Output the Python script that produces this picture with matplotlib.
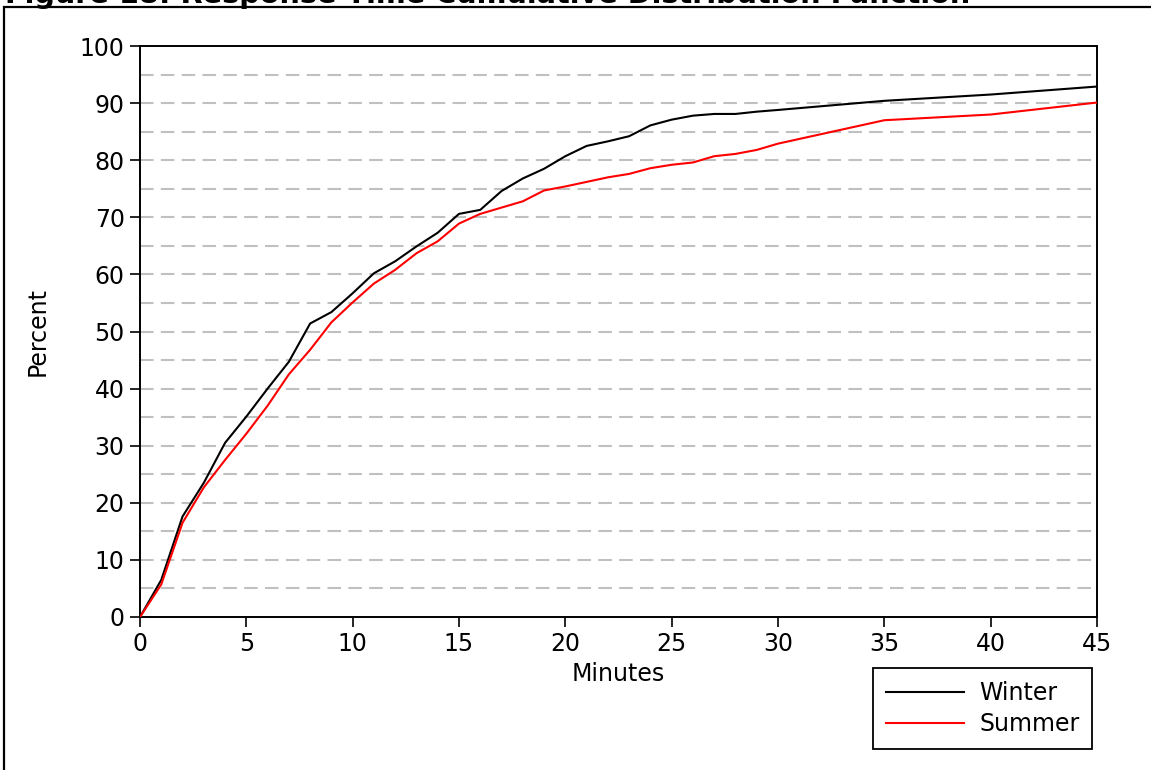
import matplotlib.pyplot as plt
from matplotlib.patches import Rectangle

# response time CDF, percent of calls answered within N minutes
minutes = list(range(0, 31)) + [35, 40, 45]
winter = [0, 6.5, 17.6, 23.5, 30.5, 35.1, 40.0, 44.7, 51.4, 53.4,
          56.7, 60.2, 62.3, 64.9, 67.3, 70.6, 71.3, 74.6, 76.8, 78.5,
          80.7, 82.5, 83.3, 84.2, 86.1, 87.1, 87.8, 88.1, 88.1, 88.5,
          88.8, 90.4, 91.5, 92.9]
summer = [0, 5.7, 16.5, 22.7, 27.5, 32.1, 37.0, 42.5, 46.8, 51.6,
          55.1, 58.4, 60.8, 63.7, 65.8, 68.9, 70.6, 71.7, 72.8, 74.7,
          75.4, 76.2, 77.0, 77.6, 78.6, 79.2, 79.6, 80.7, 81.1, 81.8,
          82.9, 87.0, 88.0, 90.1]

x_ticks = list(range(0, 46, 5))
y_ticks = list(range(0, 101, 10))
grid_levels = list(range(5, 100, 5))

title = 'Figure 18: Response Time Cumulative Distribution Function'

W, H = 1151, 770
plt.rcParams['font.family'] = ['DejaVu Sans']
fs = 17

fig = plt.figure(figsize=(W / 100, H / 100), dpi=100)
ax = fig.add_axes([140 / W, 1 - 617 / H, (1097 - 140) / W, (617 - 46) / H])

# dashed grey reference lines every 5 percent
for lev in grid_levels:
    ax.axhline(lev, color='#c0c0c0', lw=1.5, linestyle=(0, (6.5, 3.5)), zorder=1)

ax.plot(minutes, winter, color='black', lw=1.5, label='Winter', zorder=3)
ax.plot(minutes, summer, color='#ff0000', lw=1.5, label='Summer', zorder=3)

ax.set_xlim(0, 45)
ax.set_ylim(0, 100)
ax.set_xticks(x_ticks)
ax.set_yticks(y_ticks)
ax.tick_params(axis='both', direction='out', length=7.5, width=1.2,
               labelsize=fs, color='black', pad=3.5)
for s in ax.spines.values():
    s.set_linewidth(1.4)
    s.set_color('black')

ax.set_xlabel('Minutes', fontsize=fs, labelpad=4)
ax.set_ylabel('Percent', fontsize=fs, labelpad=22)

leg = ax.legend(loc='upper left', bbox_to_anchor=(873 / W, 1 - 668 / H),
                bbox_transform=fig.transFigure, fontsize=fs, frameon=True,
                fancybox=False, edgecolor='black', framealpha=1,
                handlelength=3.3, handletextpad=0.65, borderpad=0.55,
                labelspacing=0.3, borderaxespad=0)
leg.get_frame().set_linewidth(1.3)

# page frame and the caption running off the top edge
fig.patches.append(Rectangle((4 / W, -0.1), 1.2, 1.1 - 7 / H,
                             transform=fig.transFigure, fill=False,
                             edgecolor='black', lw=1.6))
fig.text(5 / W, 1 - 3 / H, title, fontsize=20.7, fontweight='bold',
         ha='left', va='baseline')

fig.savefig('out.png', dpi=100)
